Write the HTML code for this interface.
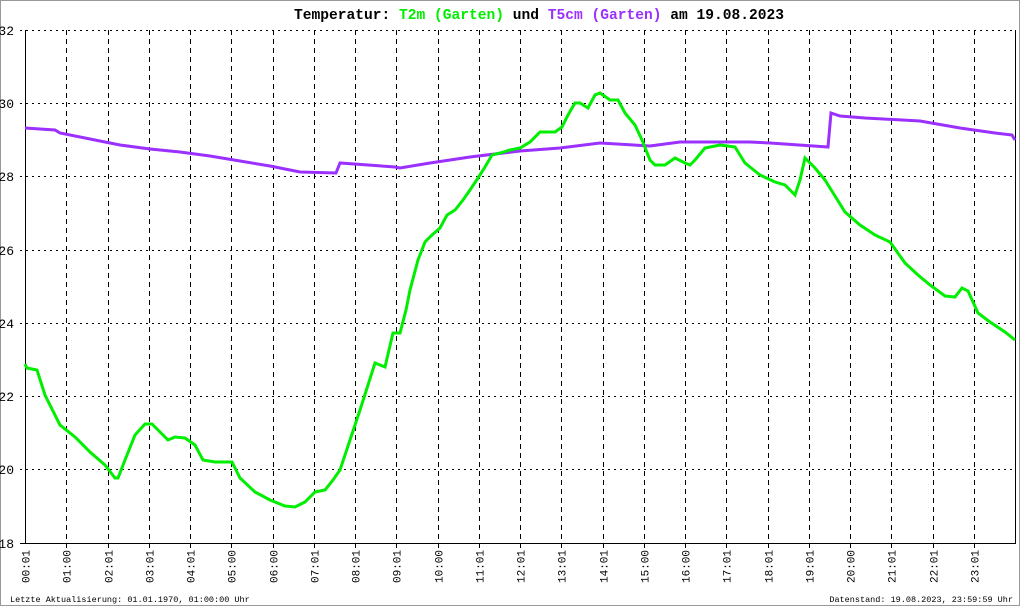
<!DOCTYPE html>
<html><head><meta charset="utf-8"><style>
html,body{margin:0;padding:0;background:#fff}
svg{display:block}
text{font-family:"Liberation Mono","DejaVu Sans Mono",monospace}
</style></head><body>
<svg width="1020" height="606" viewBox="0 0 1020 606" xmlns="http://www.w3.org/2000/svg">
<rect x="0.5" y="0.5" width="1019" height="605" fill="#fff" stroke="#999"/>
<text x="294" y="19" font-size="14.5" font-weight="bold" textLength="490" lengthAdjust="spacingAndGlyphs"><tspan fill="#000">Temperatur: </tspan><tspan fill="#00ee00">T2m (Garten)</tspan><tspan fill="#000"> und </tspan><tspan fill="#9b30ff">T5cm (Garten)</tspan><tspan fill="#000"> am 19.08.2023</tspan></text>
<g stroke="#000" stroke-width="1" stroke-dasharray="2,4">
<line x1="20" y1="30.5" x2="1015" y2="30.5"/>
<line x1="20" y1="103.5" x2="1015" y2="103.5"/>
<line x1="20" y1="176.5" x2="1015" y2="176.5"/>
<line x1="20" y1="250.5" x2="1015" y2="250.5"/>
<line x1="20" y1="323.5" x2="1015" y2="323.5"/>
<line x1="20" y1="396.5" x2="1015" y2="396.5"/>
<line x1="20" y1="469.5" x2="1015" y2="469.5"/>
</g>
<g stroke="#000" stroke-width="1" stroke-dasharray="5,4" id="vg"></g>
<g font-size="13" fill="#000" text-anchor="end">
<text x="14" y="35">32</text><text x="14" y="108">30</text><text x="14" y="181">28</text>
<text x="14" y="255">26</text><text x="14" y="328">24</text><text x="14" y="401">22</text>
<text x="14" y="474">20</text><text x="14" y="548">18</text>
</g>
<g id="xl" font-size="11" fill="#000"></g>
<line x1="25.5" y1="30" x2="25.5" y2="544" stroke="#000"/>
<line x1="1015.5" y1="30" x2="1015.5" y2="544" stroke="#000"/>
<line x1="20" y1="543.5" x2="1016" y2="543.5" stroke="#000"/>
<polyline fill="none" stroke="#9b30ff" stroke-width="3" points="25,128 55,130 60,133 95,140 120,145 150,149 180,152 210,156 240,161 270,166 300,172 336,173 340,163 395,167 400,168 430,163 470,157 520,151 560,148 600,143 650,146 680,142 750,142 770,143 828,147 831,113 840,116 865,118 920,121 960,128 995,133 1012,135 1015,140"/>
<polyline fill="none" stroke="#00ee00" stroke-width="3" points="25,364 27,368 37,370 45,395 60,425 75,437 90,452 105,465 115,478 118,478 125,460 135,435 145,424 152,424 160,432 168,440 175,437 185,438 195,445 203,460 215,462 232,462 240,478 255,492 270,500 285,506 295,507 305,502 315,492 325,490 333,480 340,470 350,440 360,410 368,385 375,363 385,367 393,333 400,333 406,310 410,290 418,260 425,242 432,235 440,228 447,215 455,210 463,200 470,190 478,178 485,167 492,155 500,153 510,150 520,148 530,142 540,132 555,132 562,127 568,115 575,103 580,103 588,108 595,95 600,93 610,100 618,100 625,113 635,125 642,140 650,160 655,165 665,165 675,158 685,163 690,165 695,160 705,148 720,145 735,147 745,163 760,175 775,182 785,185 795,195 800,180 805,158 815,168 825,180 835,196 845,212 860,225 875,235 890,242 905,263 918,275 930,285 945,296 955,297 962,288 968,291 978,313 990,322 1005,332 1015,340"/>
<text x="10" y="602" font-size="8.5" fill="#000">Letzte Aktualisierung: 01.01.1970, 01:00:00 Uhr</text>
<text x="1013" y="602" font-size="8.5" fill="#000" text-anchor="end">Datenstand: 19.08.2023, 23:59:59 Uhr</text>
<script>
var vg=document.getElementById('vg'),xl=document.getElementById('xl'),ns='http://www.w3.org/2000/svg';
for(var h=0;h<24;h++){var x=Math.round(25+h*41.25)+0.5;
if(h>0){var l=document.createElementNS(ns,'line');l.setAttribute('x1',x);l.setAttribute('x2',x);l.setAttribute('y1',30);l.setAttribute('y2',549);vg.appendChild(l);}
var lab=(h<10?'0':'')+h+':'+([1,5,6,10,15,16,20].indexOf(h)>=0||h==0&&false?'00':'01');
if(h==0)lab='00:01';
var t=document.createElementNS(ns,'text');t.setAttribute('transform','translate('+(x+4)+',583) rotate(-90)');t.textContent=lab;xl.appendChild(t);}
</script>
</svg>
</body></html>
